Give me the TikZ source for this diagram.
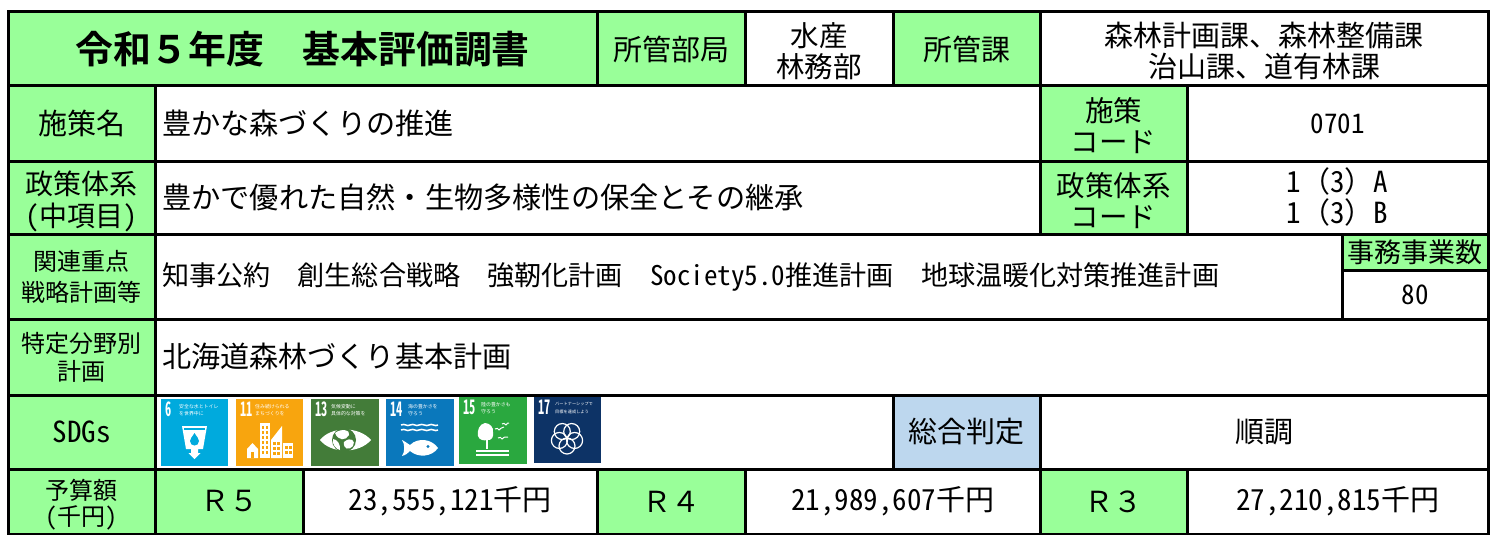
\documentclass[tikz,border=0pt]{standalone}
\usepackage{fontspec}
\setmainfont[BoldFont={Noto Sans CJK JP Bold}]{Noto Sans CJK JP}
\newfontfamily\hwfont[RawFeature=+hwid,BoldFont={Noto Sans CJK JP Bold}]{Noto Sans CJK JP}
\newcommand{\hw}[1]{{\hwfont #1}}
\definecolor{cellgreen}{HTML}{99FF99}
\definecolor{cellblue}{HTML}{BDD7EE}
\definecolor{sdga}{HTML}{00AADD}
\definecolor{sdgb}{HTML}{F8A50E}
\definecolor{sdgc}{HTML}{437C39}
\definecolor{sdgd}{HTML}{0A78BC}
\definecolor{sdge}{HTML}{2AA83F}
\definecolor{sdgf}{HTML}{0D3366}
\newcommand{\fs}[1]{\fontsize{#1}{#1}\selectfont}
\newcommand{\fb}[2]{\fontsize{#1}{#2}\selectfont}
% \cell[opts]{name}{x1}{y1}{x2}{y2}{size}{text}
\newcommand{\cell}[8][]{%
  \pgfmathsetmacro{\cw}{#5-#3}\pgfmathsetmacro{\ch}{#6-#4}%
  \pgfmathsetmacro{\cx}{(#3+#5)/2}\pgfmathsetmacro{\cy}{(#4+#6)/2}%
  \node[cellbox,minimum width=\cw pt,minimum height=\ch pt,font=\fb{#7}{31},#1] (#2) at (\cx,\cy) {#8};%
}
\newcommand{\icontext}[3]{%
  \node[anchor=north west,inner sep=0,text=white,xscale=.62,transform shape,font=\hwfont\bfseries\fs{20}] at (4,3) {#2};
  \node[anchor=north west,inner sep=0,text=white,align=left,font=\fb{4.9}{7.5}] at (#1,5) {#3};
}
\tikzset{
  cellbox/.style={draw=black,line width=3pt,inner sep=0pt,outer sep=0pt,align=center,text=black,fill=white},
  greencell/.style={fill=cellgreen},
  bluecell/.style={fill=cellblue},
  lefttext/.style={anchor=west,inner sep=0pt,text=black},
  iconw/.style={fill=white,draw=none}
}
\begin{document}
\begin{tikzpicture}[x=1pt,y=-1pt]
\useasboundingbox (0,0) rectangle (1497,535);
\fill[white] (0,0) rectangle (1497,535);
% row 1
\cell[greencell]{title}{8}{12}{597}{86}{37.9}{\bfseries 令和５年度　基本評価調書}
\cell[greencell]{dept}{597}{12}{745}{86}{29}{所管部局}
\cell{deptv}{745}{12}{893}{86}{28.5}{\rule{0pt}{29pt}水産\\林務部}
\cell[greencell]{sec}{893}{12}{1040}{86}{29}{所管課}
\cell{secv}{1040}{12}{1488}{86}{29}{\rule{0pt}{27.5pt}森林計画課、森林整備課\\治山課、道有林課}
% row 2
\cell[greencell]{nm}{8}{86}{155}{161}{29}{施策名}
\cell{nmv}{155}{86}{1040}{161}{10}{}
\node[lefttext,font=\fs{29.15}] (nmt) at (162,123.5) {豊かな森づくりの推進};
\cell[greencell]{code}{1040}{86}{1187}{161}{28.5}{\rule{0pt}{28pt}施策\\コード}
\cell{codev}{1187}{86}{1488}{161}{27}{\hw{0701}}
% row 3
\cell[greencell,font=\fb{28}{32}]{pol}{8}{161}{155}{234}{28}{\rule{0pt}{31pt}政策体系\\\hw{(}中項目\hw{)}}
\cell{polv}{155}{161}{1040}{234}{10}{}
\node[lefttext,font=\fs{29.2}] (polt) at (162,197.5) {豊かで優れた自然・生物多様性の保全とその継承};
\cell[greencell]{pcode}{1040}{161}{1187}{234}{28.5}{\rule{0pt}{30pt}政策体系\\コード}
\cell{pcodev}{1187}{161}{1488}{234}{29}{\hw{1}（\hw{3}）\hw{A}\\\hw{1}（\hw{3}）\hw{B}\rule[-4pt]{0pt}{4pt}}
% row 4
\cell[greencell]{rel}{8}{234}{155}{319}{24}{関連重点\\戦略計画等}
\cell{relv}{155}{234}{1342}{319}{10}{}
\node[lefttext,font=\fs{27.1}] (relt) at (162,277) {知事公約　創生総合戦略　強靭化計画　\hw{Society5.0}推進計画　地球温暖化対策推進計画};
\cell[greencell]{jobs}{1342}{234}{1488}{270}{27}{事務事業数}
\cell{jobsv}{1342}{270}{1488}{319}{27}{\hw{80}}
% row 5
\cell[greencell,font=\fb{24}{28}]{plan}{8}{319}{155}{395}{24}{特定分野別\\計画}
\cell{planv}{155}{319}{1488}{395}{10}{}
\node[lefttext,font=\fs{29.1}] (plant) at (162,356) {北海道森林づくり基本計画};
% row 6
\cell[greencell]{sdg}{8}{395}{155}{469}{29}{\hw{SDGs}}
\cell{sdgv}{155}{395}{893}{469}{10}{}
\cell[bluecell]{tot}{893}{395}{1040}{469}{29}{総合判定}
\cell{totv}{1040}{395}{1488}{469}{29}{順調}
% row 7
\cell[greencell,font=\fb{24}{26}]{bud}{8}{469}{155}{534}{24}{\rule{0pt}{27pt}予算額\\\hw{(}千円\hw{)}}
\cell[greencell]{r5}{155}{469}{303}{534}{29}{\raisebox{-2pt}{Ｒ５}}
\cell{r5v}{303}{469}{597}{534}{29}{\raisebox{-2pt}{\hw{23,555,121}千円}}
\cell[greencell]{r4}{597}{469}{745}{534}{29}{\raisebox{-2pt}{Ｒ４}}
\cell{r4v}{745}{469}{1040}{534}{29}{\raisebox{-2pt}{\hw{21,989,607}千円}}
\cell[greencell]{r3}{1040}{469}{1187}{534}{29}{\raisebox{-2pt}{Ｒ３}}
\cell{r3v}{1187}{469}{1488}{534}{29}{\raisebox{-2pt}{\hw{27,210,815}千円}}
% SDG 6
\begin{scope}[shift={(161,399)}]
\fill[sdga] (0,0) rectangle (67,67);
\icontext{18}{6}{安全な水とトイレ\\を世界中に}
\fill[iconw] (21,27)--(46,27)--(42,50)--(37,50)--(37,54)--(39.5,54)--(33.5,60)--(27.5,54)--(30,54)--(30,50)--(25,50)--cycle;
\fill[sdga] (33.5,34) .. controls (31,38) and (29,40) .. (29,42) .. controls (29,48) and (38,48) .. (38,42) .. controls (38,40) and (36,38) .. (33.5,34)--cycle;
\fill[sdga] (23,29) -- (44,29) -- (44,30.5) -- (23,30.5) -- cycle;
\end{scope}
% SDG 11
\begin{scope}[shift={(236,399)}]
\fill[sdgb] (0,0) rectangle (67,67);
\icontext{19}{11}{住み続けられる\\まちづくりを}
\fill[iconw] (24,24) rectangle (34,59);
\fill[iconw] (11,59)--(11,50)--(16.5,44)--(22,50)--(22,59)--cycle;
\fill[iconw] (35,59)--(35,41)--(46,27)--(46,59)--cycle;
\fill[iconw] (47,44) rectangle (57,59);
\foreach \yy in {27,32,37,42,47,52}{\foreach \xx in {26,30}{\fill[sdgb] (\xx,\yy) rectangle +(2.4,3);}}
\foreach \yy in {43,48,53}{\foreach \xx in {37,41}{\fill[sdgb] (\xx,\yy) rectangle +(2.6,3);}}
\foreach \yy in {47,52}{\foreach \xx in {49,53}{\fill[sdgb] (\xx,\yy) rectangle +(2.6,3);}}
\fill[sdgb] (15,53) rectangle (18,59);
\end{scope}
% SDG 13
\begin{scope}[shift={(311,399)}]
\fill[sdgc] (0,0) rectangle (68,67);
\icontext{20}{13}{気候変動に\\具体的な対策を}
\fill[iconw] (9,41) .. controls (20,27) and (48,27) .. (60,41) .. controls (48,55) and (20,55) .. (9,41)--cycle;
\fill[sdgc] (33,41) circle (12);
\fill[white] (24,34) .. controls (30,29) and (40,31) .. (38,36) .. controls (35,42) and (27,42) .. (24,34)--cycle;
\fill[white] (33,43) .. controls (40,37) and (45,42) .. (42,47) .. controls (38,52) and (32,50) .. (33,43)--cycle;
\fill[white] (22,40) .. controls (26,40) and (30,46) .. (29,51) .. controls (25,50) and (21,46) .. (22,40)--cycle;
\end{scope}
% SDG 14
\begin{scope}[shift={(386,399)}]
\fill[sdgd] (0,0) rectangle (68,67);
\icontext{22}{14}{海の豊かさを\\守ろう}
\foreach \yy in {26,31}{\draw[white,line width=1.5pt] (15,\yy) .. controls (19,\yy-2) and (21,\yy+2) .. (24,\yy) .. controls (28,\yy-2) and (30,\yy+2) .. (33,\yy) .. controls (37,\yy-2) and (40,\yy+2) .. (43,\yy) .. controls (46,\yy-2) and (49,\yy+2) .. (52,\yy);}
\fill[iconw] (16,41) .. controls (20,43) and (22,45) .. (24,46) .. controls (32,38) and (46,40) .. (52,49) .. controls (46,58) and (32,59) .. (24,52) .. controls (22,54) and (20,56) .. (16,57) .. controls (19,53) and (19,45) .. (16,41)--cycle;
\fill[sdgd] (42,47.5) circle (1.6);
\end{scope}
% SDG 15
\begin{scope}[shift={(459,397)}]
\fill[sdge] (0,0) rectangle (68,67);
\icontext{22}{15}{陸の豊かさも\\守ろう}
\fill[iconw] (26,26) .. controls (20,27) and (18,34) .. (19,39) .. controls (20,43) and (25,44) .. (28,43) .. controls (33,44) and (35,39) .. (34,35) .. controls (35,31) and (31,26) .. (26,26)--cycle;
\fill[iconw] (26.5,42) rectangle (29,52);
\fill[iconw] (17,53) rectangle (50,55);
\fill[iconw] (17,57) rectangle (50,59);
\draw[white,line width=1pt] (36,32) .. controls (38,31) and (39,31) .. (40,33) .. controls (41,31) and (43,31) .. (45,30);
\draw[white,line width=1pt] (43,27) .. controls (44,26) and (46,26) .. (47,28) .. controls (48,26) and (49,26) .. (50,26);
\draw[white,line width=1pt] (39,41) .. controls (41,40) and (42,40) .. (43,42) .. controls (44,40) and (46,40) .. (49,40);
\end{scope}
% SDG 17
\begin{scope}[shift={(534,397)}]
\fill[sdgf] (0,0) rectangle (67,66);
\icontext{21}{17}{\fontsize{4.2}{7.5}\selectfont パートナーシップで\\\fontsize{4.2}{7.5}\selectfont 目標を達成しよう}
\foreach \aa in {90,162,234,306,378}{\draw[white,line width=1.2pt] (33,41)++({\aa}:8) circle (8);}
\end{scope}
\end{tikzpicture}
\end{document}
